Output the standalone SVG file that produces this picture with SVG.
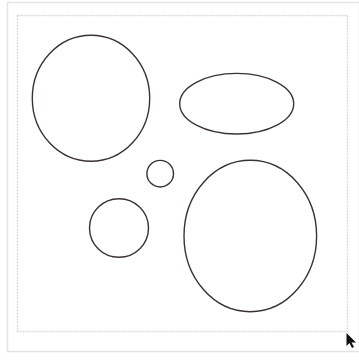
<svg xmlns="http://www.w3.org/2000/svg" width="359" height="361" viewBox="0 0 359 361">
<style>
.shape{fill:none;stroke:#3b3333;stroke-width:1.4}
</style>
<rect x="0" y="0" width="359" height="361" fill="#ffffff"/>
<rect x="7.5" y="2.5" width="352" height="349" fill="none" stroke="#e4e4e4" stroke-width="1.5"/>
<rect x="17.5" y="15.5" width="330" height="316" fill="none" stroke="#dadada" stroke-width="1.5" stroke-dasharray="2 1"/>
<g id="ellipse1"><ellipse class="shape" cx="91" cy="98.3" rx="58.7" ry="63"/></g>
<g id="ellipse2"><ellipse class="shape" cx="236.7" cy="103.7" rx="57" ry="30.3"/></g>
<g id="circle-small"><circle class="shape" cx="160.2" cy="173.7" r="13.3"/></g>
<g id="circle-mid"><ellipse class="shape" cx="119" cy="228" rx="29.5" ry="29.3"/></g>
<g id="ellipse-big"><ellipse class="shape" cx="250.3" cy="236" rx="66.3" ry="75.7"/></g>
<g id="connectors"></g>
<polygon points="346.5,333 346.5,346 349.5,343 352,348 354,347 351.5,342.5 356,342.5" fill="#111111"/>
</svg>
